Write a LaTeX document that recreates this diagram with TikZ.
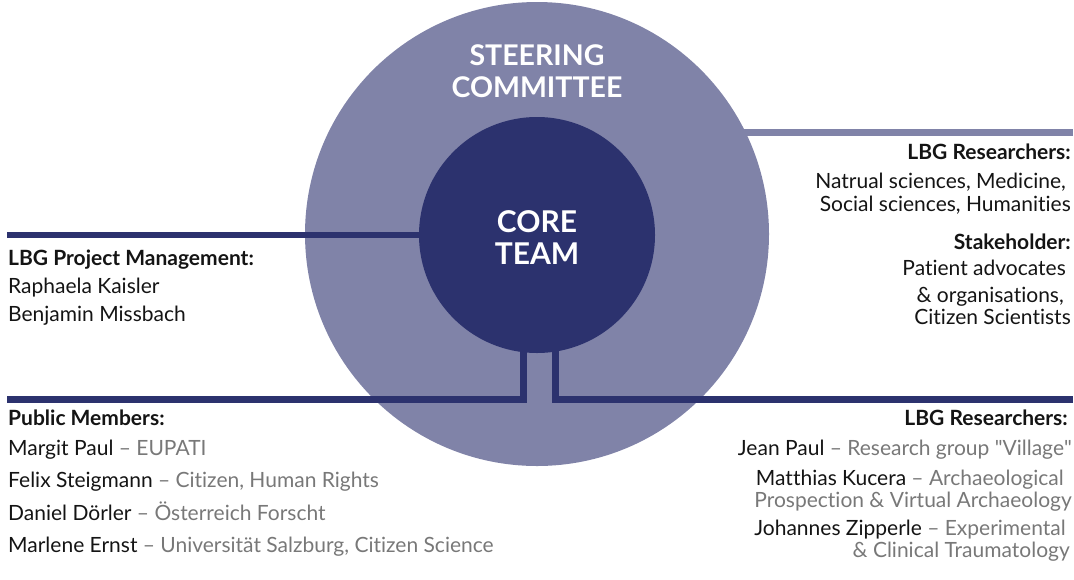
\documentclass[tikz,border=0pt]{standalone}
\usepackage{fontspec}
\setmainfont{Lato}[Ligatures={TeX,NoCommon}]
\definecolor{scfill}{RGB}{128,131,168}
\definecolor{corefill}{RGB}{44,50,110}
\definecolor{affgray}{RGB}{120,120,120}
\definecolor{txt}{RGB}{20,20,20}
\pgfdeclarelayer{back}
\pgfdeclarelayer{mid}
\pgfsetlayers{back,mid,main}
\tikzset{
  body/.style={inner sep=0pt, font=\fontsize{21}{25}\selectfont, text=txt},
  head/.style={inner sep=0pt, font=\fontsize{21}{25}\selectfont\bfseries, text=txt},
  title/.style={inner sep=0pt, font=\fontsize{28.5}{32}\selectfont\bfseries, text=white},
  coretitle/.style={inner sep=0pt, font=\fontsize{30}{34}\selectfont\bfseries, text=white},
  navyline/.style={draw=corefill, line width=7pt},
  lightline/.style={draw=scfill, line width=7pt},
}
\newcommand{\aff}[1]{\textcolor{affgray}{#1}}
\begin{document}
\begin{tikzpicture}[x=1pt,y=-1pt]
\useasboundingbox (0,0) rectangle (1074,579);
% circles
\begin{pgfonlayer}{back}
\node[circle, fill=scfill, minimum size=464pt, inner sep=0pt] (sc) at (537,234) {};
\end{pgfonlayer}
\node[circle, fill=corefill, minimum size=236pt, inner sep=0pt] (core) at (537,235) {};
% titles
\node[title, anchor=base] (st1) at (537,65) {STEERING};
\node[title, anchor=base] (st2) at (537,97) {COMMITTEE};
\node[coretitle, anchor=base] (ct1) at (537,232) {CORE};
\node[coretitle, anchor=base] (ct2) at (537,264) {TEAM};
% connectors
\coordinate (pm) at (7,235);
\coordinate (rr) at (1073,132);
\coordinate (bl) at (7,399);
\coordinate (br) at (1073,399);
\coordinate (jl) at (523,399);
\coordinate (jr) at (555,399);
\begin{pgfonlayer}{mid}
\draw[navyline, line width=6pt] (pm) -- (pm -| core.center);
\draw[lightline] (rr) -- (rr -| sc.center);
\draw[navyline] (bl) -- (jl) -- (jl |- core.center);
\draw[navyline] (br) -- (jr) -- (jr |- core.center);
\end{pgfonlayer}
% left block
\node[head, anchor=base west] (pmh) at (8,265) {LBG Project Management:};
\node[body, anchor=base west] (pm1) at (8,293) {Raphaela Kaisler};
\node[body, anchor=base west] (pm2) at (8,321) {Benjamin Missbach};
% right top block
\node[head, anchor=base east] (rh) at (1071,159) {LBG Researchers:};
\node[body, anchor=base east] (r1) at (1066,188) {Natrual sciences, Medicine,};
\node[body, anchor=base east] (r2) at (1071,211) {Social sciences, Humanities};
\node[head, anchor=base east] (sh) at (1071,249) {Stakeholder:};
\node[body, anchor=base east] (s1) at (1066,275) {Patient advocates};
\node[body, anchor=base east] (s2) at (1064,302) {\& organisations,};
\node[body, anchor=base east] (s3) at (1071,324) {Citizen Scientists};
% bottom left block
\node[head, anchor=base west] (puh) at (8,425) {Public Members:};
\node[body, anchor=base west] (pu1) at (8,455) {Margit Paul \aff{– EUPATI}};
\node[body, anchor=base west] (pu2) at (8,487) {Felix Steigmann \aff{– Citizen, Human Rights}};
\node[body, anchor=base west] (pu3) at (8,520) {Daniel Dörler \aff{– Österreich Forscht}};
\node[body, anchor=base west] (pu4) at (8,552) {Marlene Ernst \aff{– Universität Salzburg, Citizen Science}};
% bottom right block
\node[head, anchor=base east] (lh) at (1068,425) {LBG Researchers:};
\node[body, anchor=base east] (l1) at (1072,455) {Jean Paul \aff{– Research group \textquotedbl Village\textquotedbl}};
\node[body, anchor=base east] (l2) at (1064,485) {Matthias Kucera \aff{– Archaeological}};
\node[body, anchor=base east] (l3) at (1072,507) {\aff{Prospection \& Virtual Archaeology}};
\node[body, anchor=base east] (l4) at (1066,535) {Johannes Zipperle \aff{– Experimental}};
\node[body, anchor=base east] (l5) at (1070,557) {\aff{\& Clinical Traumatology}};
\end{tikzpicture}
\end{document}
